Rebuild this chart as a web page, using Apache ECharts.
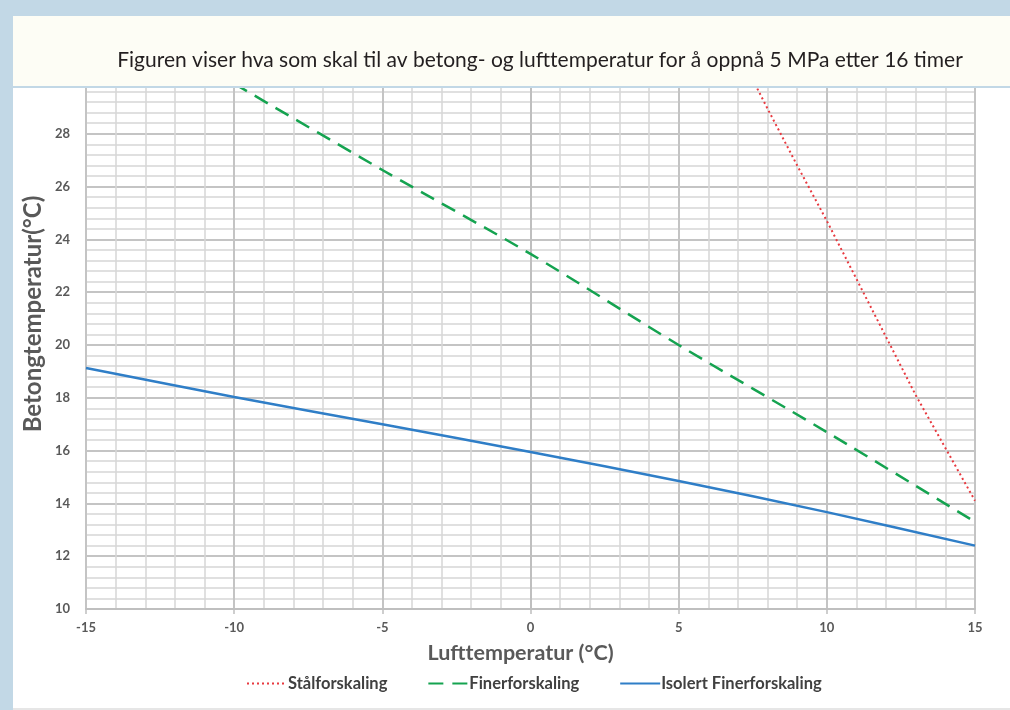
<!DOCTYPE html>
<html><head><meta charset="utf-8">
<script src="https://cdn.jsdelivr.net/npm/echarts@6/dist/echarts.min.js"></script>
<style>html,body{margin:0;padding:0;background:#c2d8e6}#c{width:1010px;height:710px}</style>
</head><body><div id="c"></div>
<script>
const titleText = 'Figuren viser hva som skal til av betong- og lufttemperatur for å oppnå 5 MPa etter 16 timer';
const xName = 'Lufttemperatur (°C)';
const yName = 'Betongtemperatur(°C)';
const seriesNames = ['Stålforskaling', 'Finerforskaling', 'Isolert Finerforskaling'];
const staalX = [7.5, 8, 9, 10, 11, 12, 13, 14, 15];
const staalY = [30.05, 28.95, 26.8, 24.7, 22.5, 20.3, 18.1, 16.1, 14.1];
const finerX = [-10, -5, 0, 5, 10, 15];
const finerY = [29.9, 26.63, 23.45, 20.0, 16.7, 13.3];
const isoX = [-15, -10, -5, 0, 5, 10, 15];
const isoY = [19.13, 18.03, 17.0, 15.95, 14.85, 13.67, 12.4];

const pair = (xs, ys) => xs.map((x, i) => [x, ys[i]]);
const chart = echarts.init(document.getElementById('c'));
const axisFont = {fontFamily: 'Lato', fontWeight: 'bold', fontSize: 13, color: '#595959'};
chart.setOption({
  backgroundColor: '#c2d8e6',
  animation: false,
  grid: {left: 86, right: 35, top: 81, bottom: 101},
  xAxis: {
    type: 'value', min: -15, max: 15, interval: 5,
    name: xName, nameLocation: 'middle', nameGap: 33,
    nameTextStyle: {fontFamily: 'Lato', fontWeight: 'bold', fontSize: 21.5, color: '#595959', padding: [0, 20, 0, 0]},
    axisLine: {show: true, lineStyle: {color: '#bfbfbf', width: 2}},
    axisTick: {show: true, length: 5, lineStyle: {color: '#bfbfbf', width: 1.5}},
    axisLabel: Object.assign({margin: 12}, axisFont),
    splitLine: {show: true, lineStyle: {color: '#c4c4c4', width: 2}},
    minorTick: {show: false, splitNumber: 5},
    minorSplitLine: {show: true, lineStyle: {color: '#d6d6d6', width: 1.5}}
  },
  yAxis: {
    type: 'value', min: 10, max: 30, interval: 2,
    axisLine: {show: true, lineStyle: {color: '#bfbfbf', width: 2}},
    axisTick: {show: false},
    axisLabel: Object.assign({margin: 16}, axisFont),
    splitLine: {show: true, lineStyle: {color: '#c4c4c4', width: 2}},
    minorTick: {show: false, splitNumber: 5},
    minorSplitLine: {show: true, lineStyle: {color: '#d6d6d6', width: 1.5}}
  },
  legend: {
    bottom: 13, left: 241, itemWidth: 40, itemHeight: 10, itemGap: 40,
    itemStyle: {opacity: 0},
    textStyle: {fontFamily: 'Lato', fontWeight: 'bold', fontSize: 16.5, color: '#404040', padding: [0,0,0,-4]},
    data: seriesNames
  },
  series: [
    {name: seriesNames[0], type: 'line', symbol: 'none', data: pair(staalX, staalY),
     lineStyle: {color: '#e8393f', width: 2, type: [2, 3]}, itemStyle: {color: '#e8393f'}},
    {name: seriesNames[1], type: 'line', symbol: 'none', data: pair(finerX, finerY), smooth: 0.3,
     lineStyle: {color: '#15a350', width: 2.5, type: [15, 9]}, itemStyle: {color: '#15a350'}},
    {name: seriesNames[2], type: 'line', symbol: 'none', data: pair(isoX, isoY), smooth: 0.3,
     lineStyle: {color: '#2f7ec7', width: 2.5}, itemStyle: {color: '#2f7ec7'}}
  ],
  graphic: [
    {type: 'rect', z: -10, silent: true, shape: {x: 13, y: 16, width: 997, height: 692}, style: {fill: '#ffffff'}},
    {type: 'rect', z: -10, silent: true, shape: {x: 13, y: 708, width: 997, height: 2}, style: {fill: '#e6e6e6'}},
    {type: 'rect', z: 100, silent: true, shape: {x: 13, y: 16, width: 997, height: 70}, style: {fill: '#fdfdf5'}},
    {type: 'rect', z: 100, silent: true, shape: {x: 13, y: 86, width: 997, height: 2}, style: {fill: '#c2d8e6'}},
    {type: 'text', z: 101, silent: true, x: 540, y: 60,
     style: {text: titleText, fontFamily: 'Lato', fontSize: 21, fill: '#231f20', align: 'center', verticalAlign: 'middle'}},
    {type: 'text', z: 101, silent: true, x: 33, y: 314, rotation: Math.PI / 2,
     style: {text: yName, fontFamily: 'Lato', fontWeight: 'bold', fontSize: 24, fill: '#595959', align: 'center', verticalAlign: 'middle'}}
  ]
});
</script></body></html>
